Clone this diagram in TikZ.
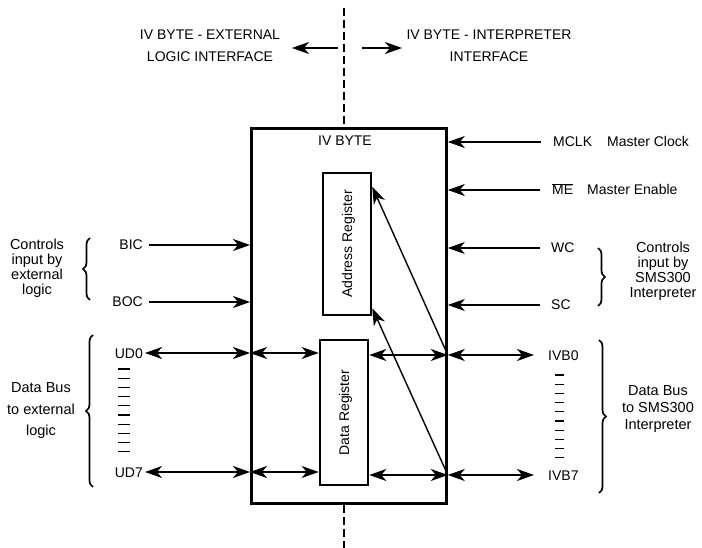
\documentclass[tikz,border=0pt]{standalone}
\usepackage{fontspec}
\setmainfont{Liberation Sans}
\usetikzlibrary{arrows.meta,decorations.pathreplacing}
\begin{document}
\begin{tikzpicture}[x=1pt,y=-1pt,
  lbl/.style={font=\fontsize{14}{16}\selectfont, inner sep=2pt, text height=10pt, text depth=0pt},
  ml/.style={align=center, inner sep=1pt},
  arr/.style={line width=1.8pt, -{Stealth[length=17pt,width=12pt,inset=5pt]}},
  darr/.style={line width=1.8pt, {Stealth[length=17pt,width=12pt,inset=5pt]}-{Stealth[length=17pt,width=12pt,inset=5pt]}},
  diag/.style={line width=1.4pt, -{Stealth[length=17pt,width=12pt,inset=5pt]}},
  reg/.style={draw, line width=2.6pt, minimum width=48pt, inner sep=0pt},
  brcL/.style={decorate, decoration={brace, amplitude=7pt}, line width=1.7pt},
  ticks/.style={line width=1.2pt},
  dashln/.style={line width=1.8pt, dash pattern=on 8pt off 4pt}
]
\useasboundingbox (0,0) rectangle (702,548);

% main block
\node[draw, line width=2.8pt, minimum width=195pt, minimum height=375pt, anchor=north west, inner sep=0pt] (box) at (250,127) {};
\node[lbl] (title) at (345,141) {IV BYTE};
\node[reg, minimum height=142pt] (areg) at (347,244) {};
\node[rotate=90, lbl] (aregt) at (areg.center) {Address Register};
\node[reg, minimum height=145pt] (dreg) at (344,412.5) {};
\node[rotate=90, lbl] (dregt) at (dreg.center) {Data Register};

% dashed divider
\coordinate (dtop) at (344,8);
\coordinate (dbot) at (344,548);
\draw[dashln] (dtop) -- (dtop |- box.north);
\draw[dashln] (dtop |- box.south) -- (dbot);

% top headings
\node[ml, font=\fontsize{14}{22}\selectfont] (extl) at (210,46) {IV BYTE - EXTERNAL\\LOGIC INTERFACE};
\node[ml, font=\fontsize{14}{22}\selectfont] (intl) at (489,46) {IV BYTE - INTERPRETER\\INTERFACE};
\coordinate (la) at (338,48);
\coordinate (lb) at (292,48);
\coordinate (ra) at (362,48);
\coordinate (rb) at (402,48);
\draw[arr] (la) -- (lb);
\draw[arr] (ra) -- (rb);

% left signals
\node[lbl, anchor=east] (bic) at (145,245) {BIC};
\node[lbl, anchor=east] (boc) at (145,302) {BOC};
\node[lbl, anchor=east] (ud0) at (145,353) {UD0};
\node[lbl, anchor=east] (ud7) at (145,472) {UD7};
\draw[arr, shorten <=4pt] (bic.east) -- (bic.east -| box.west);
\draw[arr, shorten <=4pt] (boc.east) -- (boc.east -| box.west);
\draw[darr] (ud0.east) -- (ud0.east -| box.west);
\draw[darr] (ud7.east) -- (ud7.east -| box.west);
\draw[darr] (ud0.east -| box.west) -- (ud0.east -| dreg.west);
\draw[darr] (ud7.east -| box.west) -- (ud7.east -| dreg.west);
\foreach \i in {0,...,9} \draw[ticks] (118,{369+9.2*\i}) -- (130,{369+9.2*\i});

% left braces and texts
\coordinate (lb1a) at (90,300);
\coordinate (lb1b) at (90,238);
\draw[brcL] (lb1a) -- (lb1b);
\node[ml, font=\fontsize{14.5}{15}\selectfont] (ctrlL) at (37,268) {Controls\\input by\\external\\logic};
\coordinate (lb2a) at (93,487);
\coordinate (lb2b) at (93,335);
\draw[brcL] (lb2a) -- (lb2b);
\node[ml, font=\fontsize{14.5}{21.5}\selectfont] (dataL) at (41,411) {Data Bus\\to external\\logic};

% right signals
\node[lbl, anchor=west] (mclk) at (551,142) {MCLK};
\node[lbl, anchor=west] (mclkd) at (605,142) {Master Clock};
\node[lbl, anchor=west] (me) at (550,190) {$\overline{\hbox{ME}}$};
\node[lbl, anchor=west] (med) at (585,190) {Master Enable};
\node[lbl, anchor=west] (wc) at (549,248) {WC};
\node[lbl, anchor=west] (sc) at (549,305) {SC};
\node[lbl, anchor=west] (ivb0) at (546,355) {IVB0};
\node[lbl, anchor=west] (ivb7) at (546,475) {IVB7};
\draw[arr] ([xshift=-10pt]mclk.west) -- (mclk.west -| box.east);
\draw[arr] ([xshift=-10pt]me.west) -- (me.west -| box.east);
\draw[arr] ([xshift=-9pt]wc.west) -- (wc.west -| box.east);
\draw[arr] ([xshift=-9pt]sc.west) -- (sc.west -| box.east);
\draw[darr] (ivb0.west -| box.east) -- ([xshift=-12pt]ivb0.west);
\draw[darr] (ivb7.west -| box.east) -- ([xshift=-12pt]ivb7.west);
\draw[darr] (ivb0.west -| dreg.east) -- (ivb0.west -| box.east);
\draw[darr] (ivb7.west -| dreg.east) -- (ivb7.west -| box.east);
\foreach \i in {0,...,9} \draw[ticks] (555,{375+9.2*\i}) -- (564,{375+9.2*\i});

% diagonal lines to address register
\draw[diag] (ivb0.west -| box.east) -- ([yshift=-15pt]areg.north east);
\draw[diag] (ivb7.west -| box.east) -- ([yshift=8pt]areg.south east);

% right braces and texts
\coordinate (rb1a) at (598,248);
\coordinate (rb1b) at (598,306);
\draw[brcL] (rb1a) -- (rb1b);
\node[ml, font=\fontsize{14.5}{15}\selectfont] (ctrlR) at (663,271) {Controls\\input by\\SMS300\\Interpreter};
\coordinate (rb2a) at (599,340);
\coordinate (rb2b) at (599,493);
\draw[brcL] (rb2a) -- (rb2b);
\node[ml, font=\fontsize{14.5}{17}\selectfont] (dataR) at (658,409) {Data Bus\\to SMS300\\Interpreter};
\end{tikzpicture}
\end{document}
